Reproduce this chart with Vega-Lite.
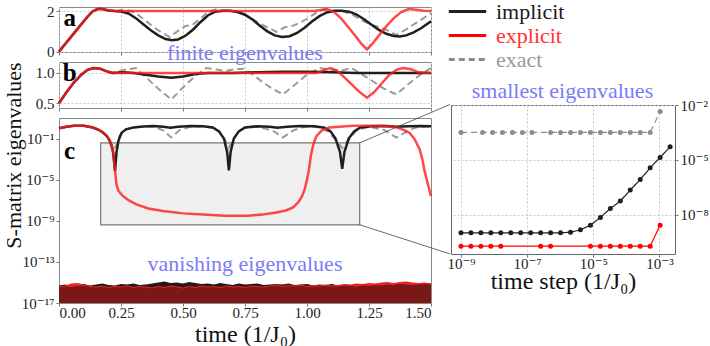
{
  "$schema": "https://vega.github.io/schema/vega-lite/v6.json",
  "background": "white",
  "padding": {"left": 1, "top": -2, "right": 0, "bottom": 0},
  "spacing": -7,
  "config": {
    "font": "Liberation Serif, DejaVu Serif, serif",
    "view": {"stroke": "#888", "strokeWidth": 1},
    "axis": {"labelFont": "Liberation Serif, DejaVu Serif, serif", "labelFontSize": 15, "labelColor": "#222", "titleFont": "Liberation Serif, DejaVu Serif, serif", "titleFontSize": 24, "titleFontWeight": "normal", "titleColor": "#111", "domain": false, "tickColor": "#777", "tickSize": 3, "gridColor": "#c8c8c8", "gridDash": [2, 2], "labelPadding": 2},
    "legend": {"labelFont": "Liberation Serif, DejaVu Serif, serif"},
    "text": {"font": "Liberation Serif, DejaVu Serif, serif"}
  },
  "datasets": {
    "pa": [
      {"s":"exact","t":0,"v":0},{"s":"exact","t":0.03,"v":0.45},{"s":"exact","t":0.06,"v":0.9},{"s":"exact","t":0.09,"v":1.35},{"s":"exact","t":0.115,"v":1.72},{"s":"exact","t":0.135,"v":1.98},{"s":"exact","t":0.155,"v":2.1},{"s":"exact","t":0.175,"v":2.1},{"s":"exact","t":0.2,"v":2.03},{"s":"exact","t":0.225,"v":2.0},
      {"s":"exact","t":0.26,"v":2.05},{"s":"exact","t":0.29,"v":2.0},{"s":"exact","t":0.32,"v":1.8},{"s":"exact","t":0.35,"v":1.52},{"s":"exact","t":0.38,"v":1.22},{"s":"exact","t":0.41,"v":0.97},{"s":"exact","t":0.446,"v":0.72},{"s":"exact","t":0.48,"v":1.02},{"s":"exact","t":0.51,"v":1.26},{"s":"exact","t":0.54,"v":1.33},{"s":"exact","t":0.57,"v":1.62},{"s":"exact","t":0.6,"v":1.95},{"s":"exact","t":0.63,"v":2.07},{"s":"exact","t":0.66,"v":2.02},{"s":"exact","t":0.7,"v":2.0},{"s":"exact","t":0.74,"v":1.88},{"s":"exact","t":0.78,"v":1.6},{"s":"exact","t":0.82,"v":1.32},{"s":"exact","t":0.85,"v":1.15},{"s":"exact","t":0.876,"v":0.97},{"s":"exact","t":0.91,"v":1.2},{"s":"exact","t":0.944,"v":1.28},{"s":"exact","t":0.97,"v":1.42},{"s":"exact","t":1.0,"v":1.62},{"s":"exact","t":1.035,"v":1.9},{"s":"exact","t":1.065,"v":2.08},{"s":"exact","t":1.1,"v":2.02},{"s":"exact","t":1.14,"v":2.0},{"s":"exact","t":1.18,"v":1.85},{"s":"exact","t":1.22,"v":1.55},{"s":"exact","t":1.26,"v":1.32},{"s":"exact","t":1.29,"v":1.22},{"s":"exact","t":1.33,"v":1.02},{"s":"exact","t":1.36,"v":0.82},{"s":"exact","t":1.4,"v":1.1},{"s":"exact","t":1.44,"v":1.42},{"s":"exact","t":1.47,"v":1.65},{"s":"exact","t":1.5,"v":1.9},
      {"s":"implicit","t":0,"v":0},{"s":"implicit","t":0.03,"v":0.45},{"s":"implicit","t":0.06,"v":0.9},{"s":"implicit","t":0.09,"v":1.35},{"s":"implicit","t":0.115,"v":1.72},{"s":"implicit","t":0.135,"v":1.98},{"s":"implicit","t":0.155,"v":2.1},{"s":"implicit","t":0.175,"v":2.1},{"s":"implicit","t":0.2,"v":2.03},{"s":"implicit","t":0.225,"v":2.0},
      {"s":"implicit","t":0.25,"v":1.98},{"s":"implicit","t":0.28,"v":1.88},{"s":"implicit","t":0.31,"v":1.65},{"s":"implicit","t":0.34,"v":1.35},{"s":"implicit","t":0.37,"v":1.05},{"s":"implicit","t":0.4,"v":0.8},{"s":"implicit","t":0.43,"v":0.62},{"s":"implicit","t":0.455,"v":0.56},{"s":"implicit","t":0.48,"v":0.6},{"s":"implicit","t":0.51,"v":0.78},{"s":"implicit","t":0.54,"v":1.08},{"s":"implicit","t":0.57,"v":1.45},{"s":"implicit","t":0.6,"v":1.78},{"s":"implicit","t":0.63,"v":1.97},{"s":"implicit","t":0.66,"v":2.02},{"s":"implicit","t":0.69,"v":2.01},{"s":"implicit","t":0.72,"v":1.95},{"s":"implicit","t":0.75,"v":1.82},{"s":"implicit","t":0.78,"v":1.58},{"s":"implicit","t":0.81,"v":1.28},{"s":"implicit","t":0.84,"v":1.0},{"s":"implicit","t":0.87,"v":0.8},{"s":"implicit","t":0.9,"v":0.72},{"s":"implicit","t":0.93,"v":0.76},{"s":"implicit","t":0.96,"v":0.92},{"s":"implicit","t":0.99,"v":1.18},{"s":"implicit","t":1.02,"v":1.48},{"s":"implicit","t":1.05,"v":1.75},{"s":"implicit","t":1.08,"v":1.93},{"s":"implicit","t":1.11,"v":2.01},{"s":"implicit","t":1.14,"v":2.02},{"s":"implicit","t":1.17,"v":1.97},{"s":"implicit","t":1.2,"v":1.83},{"s":"implicit","t":1.23,"v":1.6},{"s":"implicit","t":1.26,"v":1.32},{"s":"implicit","t":1.29,"v":1.07},{"s":"implicit","t":1.32,"v":0.88},{"s":"implicit","t":1.35,"v":0.77},{"s":"implicit","t":1.375,"v":0.75},{"s":"implicit","t":1.4,"v":0.8},{"s":"implicit","t":1.43,"v":0.95},{"s":"implicit","t":1.46,"v":1.15},{"s":"implicit","t":1.5,"v":1.5},
      {"s":"explicit","t":0,"v":0},{"s":"explicit","t":0.03,"v":0.45},{"s":"explicit","t":0.06,"v":0.9},{"s":"explicit","t":0.09,"v":1.35},{"s":"explicit","t":0.115,"v":1.72},{"s":"explicit","t":0.135,"v":1.98},{"s":"explicit","t":0.155,"v":2.1},{"s":"explicit","t":0.175,"v":2.1},{"s":"explicit","t":0.2,"v":2.03},{"s":"explicit","t":0.225,"v":2.0},
      {"s":"explicit","t":0.5,"v":2.0},{"s":"explicit","t":0.8,"v":2.0},{"s":"explicit","t":1.03,"v":2.0},{"s":"explicit","t":1.055,"v":2.05},{"s":"explicit","t":1.08,"v":2.1},{"s":"explicit","t":1.11,"v":1.95},{"s":"explicit","t":1.14,"v":1.6},{"s":"explicit","t":1.17,"v":1.15},{"s":"explicit","t":1.2,"v":0.7},{"s":"explicit","t":1.22,"v":0.38},{"s":"explicit","t":1.242,"v":0.11},{"s":"explicit","t":1.265,"v":0.4},{"s":"explicit","t":1.29,"v":0.8},{"s":"explicit","t":1.32,"v":1.25},{"s":"explicit","t":1.35,"v":1.65},{"s":"explicit","t":1.38,"v":1.95},{"s":"explicit","t":1.41,"v":2.1},{"s":"explicit","t":1.44,"v":2.06},{"s":"explicit","t":1.47,"v":2.01},{"s":"explicit","t":1.5,"v":2.0}
    ],
    "pb": [
      {"s":"exact","t":0,"v":0.5},{"s":"exact","t":0.03,"v":0.68},{"s":"exact","t":0.06,"v":0.84},{"s":"exact","t":0.09,"v":0.97},{"s":"exact","t":0.115,"v":1.05},{"s":"exact","t":0.14,"v":1.08},{"s":"exact","t":0.165,"v":1.07},{"s":"exact","t":0.19,"v":1.03},{"s":"exact","t":0.215,"v":1.0},
      {"s":"exact","t":0.26,"v":1.05},{"s":"exact","t":0.31,"v":1.08},{"s":"exact","t":0.35,"v":0.93},{"s":"exact","t":0.4,"v":0.74},{"s":"exact","t":0.453,"v":0.56},{"s":"exact","t":0.5,"v":0.76},{"s":"exact","t":0.55,"v":0.95},{"s":"exact","t":0.593,"v":1.08},{"s":"exact","t":0.63,"v":1.06},{"s":"exact","t":0.67,"v":1.03},{"s":"exact","t":0.71,"v":1.06},{"s":"exact","t":0.745,"v":1.07},{"s":"exact","t":0.78,"v":0.98},{"s":"exact","t":0.82,"v":0.85},{"s":"exact","t":0.86,"v":0.74},{"s":"exact","t":0.903,"v":0.645},{"s":"exact","t":0.95,"v":0.8},{"s":"exact","t":1.0,"v":0.97},{"s":"exact","t":1.05,"v":1.08},{"s":"exact","t":1.1,"v":1.05},{"s":"exact","t":1.14,"v":1.04},{"s":"exact","t":1.18,"v":1.08},{"s":"exact","t":1.22,"v":0.98},{"s":"exact","t":1.27,"v":0.85},{"s":"exact","t":1.31,"v":0.74},{"s":"exact","t":1.36,"v":0.645},{"s":"exact","t":1.41,"v":0.82},{"s":"exact","t":1.46,"v":0.98},{"s":"exact","t":1.5,"v":1.08},
      {"s":"implicit","t":0,"v":0.5},{"s":"implicit","t":0.03,"v":0.68},{"s":"implicit","t":0.06,"v":0.84},{"s":"implicit","t":0.09,"v":0.97},{"s":"implicit","t":0.115,"v":1.05},{"s":"implicit","t":0.14,"v":1.08},{"s":"implicit","t":0.165,"v":1.07},{"s":"implicit","t":0.19,"v":1.03},{"s":"implicit","t":0.215,"v":1.0},
      {"s":"implicit","t":0.26,"v":1.01},{"s":"implicit","t":0.3,"v":1.0},{"s":"implicit","t":0.35,"v":0.97},{"s":"implicit","t":0.4,"v":0.94},{"s":"implicit","t":0.453,"v":0.92},{"s":"implicit","t":0.5,"v":0.94},{"s":"implicit","t":0.55,"v":0.98},{"s":"implicit","t":0.6,"v":1.0},{"s":"implicit","t":0.7,"v":1.0},{"s":"implicit","t":0.8,"v":1.01},{"s":"implicit","t":0.9,"v":1.02},{"s":"implicit","t":1.0,"v":1.02},{"s":"implicit","t":1.1,"v":1.01},{"s":"implicit","t":1.2,"v":1.0},{"s":"implicit","t":1.5,"v":1.0},
      {"s":"explicit","t":0,"v":0.5},{"s":"explicit","t":0.03,"v":0.68},{"s":"explicit","t":0.06,"v":0.84},{"s":"explicit","t":0.09,"v":0.97},{"s":"explicit","t":0.115,"v":1.05},{"s":"explicit","t":0.14,"v":1.08},{"s":"explicit","t":0.165,"v":1.07},{"s":"explicit","t":0.19,"v":1.03},{"s":"explicit","t":0.215,"v":1.0},
      {"s":"explicit","t":0.5,"v":1.0},{"s":"explicit","t":0.8,"v":1.0},{"s":"explicit","t":1.04,"v":1.0},{"s":"explicit","t":1.07,"v":1.05},{"s":"explicit","t":1.095,"v":1.08},{"s":"explicit","t":1.12,"v":1.04},{"s":"explicit","t":1.15,"v":0.93},{"s":"explicit","t":1.18,"v":0.81},{"s":"explicit","t":1.21,"v":0.69},{"s":"explicit","t":1.242,"v":0.59},{"s":"explicit","t":1.27,"v":0.68},{"s":"explicit","t":1.3,"v":0.82},{"s":"explicit","t":1.33,"v":0.96},{"s":"explicit","t":1.36,"v":1.05},{"s":"explicit","t":1.387,"v":1.08},{"s":"explicit","t":1.42,"v":1.06},{"s":"explicit","t":1.45,"v":1.01},{"s":"explicit","t":1.5,"v":1.0}
    ],
    "pc": [
      {"s":"exact","t":0,"v":1},{"s":"exact","t":0.03,"v":1.413},{"s":"exact","t":0.06,"v":1.738},{"s":"exact","t":0.1,"v":1.738},{"s":"exact","t":0.137,"v":1.175},{"s":"exact","t":0.16,"v":0.708},{"s":"exact","t":0.177,"v":0.389},{"s":"exact","t":0.193,"v":0.178},{"s":"exact","t":0.204,"v":0.0631},
      {"s":"exact","t":0.212,"v":0.0251},{"s":"exact","t":0.222,"v":0.01},{"s":"exact","t":0.232,"v":0.0251},{"s":"exact","t":0.245,"v":0.2},{"s":"exact","t":0.27,"v":0.794},{"s":"exact","t":0.3,"v":1.175},{"s":"exact","t":0.34,"v":1.514},{"s":"exact","t":0.38,"v":1.413},{"s":"exact","t":0.42,"v":0.631},{"s":"exact","t":0.453,"v":0.126},{"s":"exact","t":0.485,"v":0.631},{"s":"exact","t":0.53,"v":1.413},{"s":"exact","t":0.58,"v":1.514},{"s":"exact","t":0.62,"v":1.122},{"s":"exact","t":0.645,"v":0.501},{"s":"exact","t":0.668,"v":0.0794},{"s":"exact","t":0.685,"v":0.0126},{"s":"exact","t":0.702,"v":0.0794},{"s":"exact","t":0.725,"v":0.501},{"s":"exact","t":0.75,"v":1.122},{"s":"exact","t":0.8,"v":1.413},{"s":"exact","t":0.86,"v":0.631},{"s":"exact","t":0.903,"v":0.126},{"s":"exact","t":0.945,"v":0.631},{"s":"exact","t":0.99,"v":1.413},{"s":"exact","t":1.04,"v":1.413},{"s":"exact","t":1.085,"v":0.501},{"s":"exact","t":1.115,"v":0.0794},{"s":"exact","t":1.142,"v":0.0126},{"s":"exact","t":1.168,"v":0.0794},{"s":"exact","t":1.2,"v":0.631},{"s":"exact","t":1.25,"v":1.413},{"s":"exact","t":1.31,"v":0.708},{"s":"exact","t":1.36,"v":0.126},{"s":"exact","t":1.41,"v":0.631},{"s":"exact","t":1.45,"v":1.413},{"s":"exact","t":1.5,"v":1.514},
      {"s":"implicit","t":0,"v":1},{"s":"implicit","t":0.03,"v":1.413},{"s":"implicit","t":0.06,"v":1.738},{"s":"implicit","t":0.1,"v":1.738},{"s":"implicit","t":0.137,"v":1.175},{"s":"implicit","t":0.16,"v":0.708},{"s":"implicit","t":0.177,"v":0.389},{"s":"implicit","t":0.193,"v":0.178},{"s":"implicit","t":0.204,"v":0.0631},{"s":"implicit","t":0.212,"v":0.02},{"s":"implicit","t":0.218,"v":0.00501},{"s":"implicit","t":0.222,"v":0.000631},{"s":"implicit","t":0.226,"v":0.0000708},
      {"s":"implicit","t":0.232,"v":0.00501},{"s":"implicit","t":0.24,"v":0.0631},{"s":"implicit","t":0.252,"v":0.355},{"s":"implicit","t":0.27,"v":0.794},{"s":"implicit","t":0.3,"v":1.175},{"s":"implicit","t":0.34,"v":1.514},{"s":"implicit","t":0.38,"v":1.66},{"s":"implicit","t":0.42,"v":1.413},{"s":"implicit","t":0.45,"v":1.122},{"s":"implicit","t":0.48,"v":1.413},{"s":"implicit","t":0.53,"v":1.66},{"s":"implicit","t":0.58,"v":1.585},{"s":"implicit","t":0.62,"v":1.175},{"s":"implicit","t":0.645,"v":0.501},{"s":"implicit","t":0.665,"v":0.1},{"s":"implicit","t":0.678,"v":0.00501},{"s":"implicit","t":0.685,"v":0.0000794},{"s":"implicit","t":0.692,"v":0.00501},{"s":"implicit","t":0.705,"v":0.1},{"s":"implicit","t":0.725,"v":0.501},{"s":"implicit","t":0.75,"v":1.175},{"s":"implicit","t":0.8,"v":1.585},{"s":"implicit","t":0.85,"v":1.413},{"s":"implicit","t":0.88,"v":1.122},{"s":"implicit","t":0.92,"v":1.413},{"s":"implicit","t":0.97,"v":1.66},{"s":"implicit","t":1.03,"v":1.585},{"s":"implicit","t":1.07,"v":1.122},{"s":"implicit","t":1.095,"v":0.501},{"s":"implicit","t":1.115,"v":0.1},{"s":"implicit","t":1.133,"v":0.00501},{"s":"implicit","t":1.142,"v":0.000112},{"s":"implicit","t":1.151,"v":0.00501},{"s":"implicit","t":1.168,"v":0.1},{"s":"implicit","t":1.19,"v":0.501},{"s":"implicit","t":1.215,"v":1.175},{"s":"implicit","t":1.26,"v":1.585},{"s":"implicit","t":1.32,"v":1.66},{"s":"implicit","t":1.36,"v":1.413},{"s":"implicit","t":1.41,"v":1.585},{"s":"implicit","t":1.46,"v":1.66},{"s":"implicit","t":1.5,"v":1.585},
      {"s":"explicit","t":0,"v":1},{"s":"explicit","t":0.03,"v":1.413},{"s":"explicit","t":0.06,"v":1.738},{"s":"explicit","t":0.1,"v":1.738},{"s":"explicit","t":0.137,"v":1.175},{"s":"explicit","t":0.16,"v":0.708},{"s":"explicit","t":0.177,"v":0.389},{"s":"explicit","t":0.193,"v":0.178},{"s":"explicit","t":0.204,"v":0.0631},{"s":"explicit","t":0.212,"v":0.02},{"s":"explicit","t":0.218,"v":0.00501},{"s":"explicit","t":0.222,"v":0.000631},{"s":"explicit","t":0.226,"v":0.0000708},
      {"s":"explicit","t":0.232,"v":0.00000316},{"s":"explicit","t":0.24,"v":7.94e-7},{"s":"explicit","t":0.258,"v":2.51e-7},{"s":"explicit","t":0.28,"v":1e-7},{"s":"explicit","t":0.312,"v":3.98e-8},{"s":"explicit","t":0.36,"v":1.585e-8},{"s":"explicit","t":0.419,"v":8.91e-9},{"s":"explicit","t":0.5,"v":5.25e-9},{"s":"explicit","t":0.58,"v":3.98e-9},{"s":"explicit","t":0.67,"v":3.16e-9},{"s":"explicit","t":0.762,"v":3.16e-9},{"s":"explicit","t":0.82,"v":3.98e-9},{"s":"explicit","t":0.876,"v":6.31e-9},{"s":"explicit","t":0.915,"v":1e-8},{"s":"explicit","t":0.944,"v":2e-8},{"s":"explicit","t":0.965,"v":6.31e-8},{"s":"explicit","t":0.98,"v":2.51e-7},{"s":"explicit","t":0.99,"v":1e-6},{"s":"explicit","t":1.0,"v":1e-5},{"s":"explicit","t":1.008,"v":1e-4},{"s":"explicit","t":1.016,"v":0.00251},{"s":"explicit","t":1.025,"v":0.0251},{"s":"explicit","t":1.037,"v":0.1585},{"s":"explicit","t":1.06,"v":0.631},{"s":"explicit","t":1.09,"v":1.175},{"s":"explicit","t":1.185,"v":1.738},{"s":"explicit","t":1.306,"v":1.738},{"s":"explicit","t":1.36,"v":1.259},{"s":"explicit","t":1.39,"v":0.708},{"s":"explicit","t":1.414,"v":0.355},{"s":"explicit","t":1.435,"v":0.0794},{"s":"explicit","t":1.454,"v":0.00912},{"s":"explicit","t":1.465,"v":0.001},{"s":"explicit","t":1.474,"v":0.0000708},{"s":"explicit","t":1.485,"v":0.00000631},{"s":"explicit","t":1.5,"v":2.51e-7}
    ],
    "noise": [
      {"t":0,"kb":5.01e-16,"kr":3.98e-16,"kd":3.16e-16},{"t":0.025,"kb":6.31e-16,"kr":5.01e-16,"kd":3.98e-16},{"t":0.05,"kb":4.47e-16,"kr":7.94e-16,"kd":3.55e-16},{"t":0.075,"kb":5.62e-16,"kr":8.91e-16,"kd":4.47e-16},{"t":0.1,"kb":7.08e-16,"kr":6.31e-16,"kd":5.01e-16},{"t":0.125,"kb":5.01e-16,"kr":4.47e-16,"kd":3.55e-16},{"t":0.15,"kb":6.31e-16,"kr":3.98e-16,"kd":3.16e-16},{"t":0.175,"kb":7.94e-16,"kr":5.01e-16,"kd":3.98e-16},{"t":0.2,"kb":5.62e-16,"kr":3.55e-16,"kd":2.82e-16},{"t":0.225,"kb":5.01e-16,"kr":4.47e-16,"kd":3.55e-16},
      {"t":0.25,"kb":7.08e-16,"kr":3.98e-16,"kd":3.16e-16},{"t":0.275,"kb":6.31e-16,"kr":5.01e-16,"kd":3.98e-16},{"t":0.3,"kb":7.94e-16,"kr":3.55e-16,"kd":2.82e-16},{"t":0.325,"kb":5.62e-16,"kr":4.47e-16,"kd":3.55e-16},{"t":0.35,"kb":6.31e-16,"kr":3.98e-16,"kd":3.16e-16},{"t":0.375,"kb":7.94e-16,"kr":3.16e-16,"kd":2.51e-16},{"t":0.4,"kb":1e-15,"kr":4.47e-16,"kd":3.55e-16},{"t":0.425,"kb":1.26e-15,"kr":3.55e-16,"kd":2.82e-16},{"t":0.45,"kb":8.91e-16,"kr":5.01e-16,"kd":3.98e-16},{"t":0.475,"kb":1e-15,"kr":3.98e-16,"kd":3.16e-16},
      {"t":0.5,"kb":7.94e-16,"kr":3.16e-16,"kd":2.51e-16},{"t":0.525,"kb":1.12e-15,"kr":4.47e-16,"kd":3.55e-16},{"t":0.55,"kb":8.91e-16,"kr":3.55e-16,"kd":2.82e-16},{"t":0.575,"kb":7.08e-16,"kr":5.01e-16,"kd":3.98e-16},{"t":0.6,"kb":7.94e-16,"kr":3.98e-16,"kd":3.16e-16},{"t":0.625,"kb":6.31e-16,"kr":4.47e-16,"kd":3.55e-16},{"t":0.65,"kb":8.91e-16,"kr":3.55e-16,"kd":2.82e-16},{"t":0.675,"kb":7.08e-16,"kr":5.01e-16,"kd":3.98e-16},{"t":0.7,"kb":5.62e-16,"kr":3.98e-16,"kd":3.16e-16},{"t":0.725,"kb":7.94e-16,"kr":4.47e-16,"kd":3.55e-16},
      {"t":0.75,"kb":6.31e-16,"kr":3.55e-16,"kd":2.82e-16},{"t":0.775,"kb":7.08e-16,"kr":5.01e-16,"kd":3.98e-16},{"t":0.8,"kb":7.94e-16,"kr":4.47e-16,"kd":3.55e-16},{"t":0.825,"kb":5.62e-16,"kr":3.98e-16,"kd":3.16e-16},{"t":0.85,"kb":6.31e-16,"kr":5.01e-16,"kd":3.98e-16},{"t":0.875,"kb":7.08e-16,"kr":6.31e-16,"kd":5.01e-16},{"t":0.9,"kb":6.31e-16,"kr":4.47e-16,"kd":3.55e-16},{"t":0.925,"kb":7.94e-16,"kr":5.62e-16,"kd":4.47e-16},{"t":0.95,"kb":5.62e-16,"kr":5.01e-16,"kd":3.98e-16},{"t":0.975,"kb":6.31e-16,"kr":6.31e-16,"kd":5.01e-16},
      {"t":1.0,"kb":7.08e-16,"kr":4.47e-16,"kd":3.55e-16},{"t":1.025,"kb":5.01e-16,"kr":5.62e-16,"kd":3.98e-16},{"t":1.05,"kb":6.31e-16,"kr":5.01e-16,"kd":3.98e-16},{"t":1.075,"kb":5.62e-16,"kr":6.31e-16,"kd":4.47e-16},{"t":1.1,"kb":7.08e-16,"kr":5.01e-16,"kd":3.98e-16},{"t":1.125,"kb":5.01e-16,"kr":5.62e-16,"kd":3.98e-16},{"t":1.15,"kb":6.31e-16,"kr":7.08e-16,"kd":5.01e-16},{"t":1.175,"kb":5.62e-16,"kr":6.31e-16,"kd":4.47e-16},{"t":1.2,"kb":5.01e-16,"kr":7.94e-16,"kd":3.98e-16},{"t":1.225,"kb":6.31e-16,"kr":7.08e-16,"kd":5.01e-16},
      {"t":1.25,"kb":5.62e-16,"kr":8.91e-16,"kd":4.47e-16},{"t":1.275,"kb":7.08e-16,"kr":7.94e-16,"kd":5.62e-16},{"t":1.3,"kb":6.31e-16,"kr":1e-15,"kd":5.01e-16},{"t":1.325,"kb":7.94e-16,"kr":1.12e-15,"kd":6.31e-16},{"t":1.35,"kb":7.08e-16,"kr":8.91e-16,"kd":5.62e-16},{"t":1.375,"kb":8.91e-16,"kr":1.12e-15,"kd":7.08e-16},{"t":1.4,"kb":7.94e-16,"kr":1.26e-15,"kd":6.31e-16},{"t":1.425,"kb":7.08e-16,"kr":1e-15,"kd":5.62e-16},{"t":1.45,"kb":7.94e-16,"kr":8.91e-16,"kd":6.31e-16},{"t":1.475,"kb":8.91e-16,"kr":1e-15,"kd":7.08e-16},{"t":1.5,"kb":7.94e-16,"kr":7.94e-16,"kd":6.31e-16}
    ],
    "steps": [
      {"s":"implicit","dt":1e-9,"v":1e-9},{"s":"implicit","dt":2e-9,"v":1e-9},{"s":"implicit","dt":4e-9,"v":1e-9},{"s":"implicit","dt":8e-9,"v":1e-9},{"s":"implicit","dt":1.6e-8,"v":1e-9},{"s":"implicit","dt":3.2e-8,"v":1e-9},{"s":"implicit","dt":6.4e-8,"v":1e-9},{"s":"implicit","dt":1.28e-7,"v":1e-9},{"s":"implicit","dt":2.56e-7,"v":1e-9},{"s":"implicit","dt":5.12e-7,"v":1e-9},{"s":"implicit","dt":1.024e-6,"v":1e-9},{"s":"implicit","dt":2.048e-6,"v":1.07e-9},{"s":"implicit","dt":4.096e-6,"v":1.45e-9},{"s":"implicit","dt":8.192e-6,"v":2.63e-9},{"s":"implicit","dt":1.6384e-5,"v":6.92e-9},{"s":"implicit","dt":3.2768e-5,"v":2.14e-8},{"s":"implicit","dt":6.5536e-5,"v":5.5e-8},{"s":"implicit","dt":1.31072e-4,"v":2.19e-7},{"s":"implicit","dt":2.62144e-4,"v":8.32e-7},{"s":"implicit","dt":5.24288e-4,"v":3.63e-6},{"s":"implicit","dt":1.048576e-3,"v":1.35e-5},{"s":"implicit","dt":2.097152e-3,"v":5.13e-5},
      {"s":"explicit","dt":1e-9,"v":1.86e-10},{"s":"explicit","dt":2e-9,"v":1.86e-10},{"s":"explicit","dt":4e-9,"v":1.86e-10},{"s":"explicit","dt":8e-9,"v":1.86e-10},{"s":"explicit","dt":1.6e-8,"v":1.86e-10},{"s":"explicit","dt":2.56e-7,"v":1.86e-10},{"s":"explicit","dt":5.12e-7,"v":1.86e-10},{"s":"explicit","dt":8.192e-6,"v":1.86e-10},{"s":"explicit","dt":1.6384e-5,"v":1.86e-10},{"s":"explicit","dt":3.2768e-5,"v":1.86e-10},{"s":"explicit","dt":6.5536e-5,"v":1.86e-10},{"s":"explicit","dt":1.31072e-4,"v":1.86e-10},{"s":"explicit","dt":2.62144e-4,"v":1.86e-10},{"s":"explicit","dt":5.24288e-4,"v":1.86e-10},{"s":"explicit","dt":1.048576e-3,"v":2.63e-9},
      {"s":"exact","dt":1e-9,"v":3.16e-4},{"s":"exact","dt":4.5e-9,"v":3.16e-4},{"s":"exact","dt":9e-9,"v":3.16e-4},{"s":"exact","dt":1.8e-8,"v":3.16e-4},{"s":"exact","dt":3.6e-8,"v":3.16e-4},{"s":"exact","dt":7.2e-8,"v":3.16e-4},{"s":"exact","dt":1.4e-7,"v":3.16e-4},{"s":"exact","dt":5.12e-7,"v":3.16e-4},{"s":"exact","dt":1.024e-6,"v":3.16e-4},{"s":"exact","dt":2.048e-6,"v":3.16e-4},{"s":"exact","dt":4.096e-6,"v":3.16e-4},{"s":"exact","dt":8.192e-6,"v":3.16e-4},{"s":"exact","dt":1.6384e-5,"v":3.16e-4},{"s":"exact","dt":3.2768e-5,"v":3.16e-4},{"s":"exact","dt":6.5536e-5,"v":3.16e-4},{"s":"exact","dt":1.31072e-4,"v":3.16e-4},{"s":"exact","dt":2.62144e-4,"v":3.16e-4},{"s":"exact","dt":5.24288e-4,"v":3.16e-4},{"s":"exact","dt":1.048576e-3,"v":4.47e-3}
    ]
  },
  "hconcat": [
    {
      "vconcat": [
        {
          "width": 372, "height": 45,
          "layer": [
            {"data": {"name": "pa"}, "transform": [{"filter": "datum.s === 'exact'"}],
             "mark": {"type": "line", "color": "#9a9a9a", "strokeWidth": 2, "strokeDash": [7, 4]},
             "encoding": {
               "x": {"field": "t", "type": "quantitative", "scale": {"domain": [0, 1.5], "nice": false, "zero": false}, "axis": {"values": [0, 0.25, 0.5, 0.75, 1, 1.25, 1.5], "labels": false, "title": null, "grid": true}},
               "y": {"field": "v", "type": "quantitative", "scale": {"domain": [-0.02, 2.2], "nice": false, "zero": false}, "axis": {"values": [0, 2], "format": "d", "title": null, "grid": true}}
             }},
            {"data": {"name": "pa"}, "transform": [{"filter": "datum.s === 'implicit'"}],
             "mark": {"type": "line", "color": "#231e1e", "strokeWidth": 2.5},
             "encoding": {"x": {"field": "t", "type": "quantitative"}, "y": {"field": "v", "type": "quantitative"}}},
            {"data": {"name": "pa"}, "transform": [{"filter": "datum.s === 'explicit'"}],
             "mark": {"type": "line", "color": "#ff1a1a", "strokeWidth": 2.5, "opacity": 0.8},
             "encoding": {"x": {"field": "t", "type": "quantitative"}, "y": {"field": "v", "type": "quantitative"}}},
            {"data": {"values": [{"t": 0.043, "v": 1.66, "txt": "a"}]},
             "mark": {"type": "text", "fontSize": 25, "fontWeight": "bold", "color": "#000"},
             "encoding": {"x": {"field": "t", "type": "quantitative"}, "y": {"field": "v", "type": "quantitative"}, "text": {"field": "txt"}}},
            {"data": {"values": [{"t": 0.75, "v": -0.07, "txt": "finite eigenvalues"}]},
             "mark": {"type": "text", "fontSize": 22, "color": "#7b7bf7"},
             "encoding": {"x": {"field": "t", "type": "quantitative"}, "y": {"field": "v", "type": "quantitative"}, "text": {"field": "txt"}}}
          ]
        },
        {
          "width": 372, "height": 46,
          "layer": [
            {"data": {"name": "pb"}, "transform": [{"filter": "datum.s === 'exact'"}],
             "mark": {"type": "line", "color": "#9a9a9a", "strokeWidth": 2, "strokeDash": [7, 4]},
             "encoding": {
               "x": {"field": "t", "type": "quantitative", "scale": {"domain": [0, 1.5], "nice": false, "zero": false}, "axis": {"values": [0, 0.25, 0.5, 0.75, 1, 1.25, 1.5], "labels": false, "title": null, "grid": true}},
               "y": {"field": "v", "type": "quantitative", "scale": {"domain": [0.42, 1.18], "nice": false, "zero": false}, "axis": {"values": [0.5, 1.0], "format": ".1f", "title": null, "grid": true}}
             }},
            {"data": {"name": "pb"}, "transform": [{"filter": "datum.s === 'implicit'"}],
             "mark": {"type": "line", "color": "#231e1e", "strokeWidth": 2.5},
             "encoding": {"x": {"field": "t", "type": "quantitative"}, "y": {"field": "v", "type": "quantitative"}}},
            {"data": {"name": "pb"}, "transform": [{"filter": "datum.s === 'explicit'"}],
             "mark": {"type": "line", "color": "#ff1a1a", "strokeWidth": 2.5, "opacity": 0.8},
             "encoding": {"x": {"field": "t", "type": "quantitative"}, "y": {"field": "v", "type": "quantitative"}}},
            {"data": {"values": [{"t": 0.043, "v": 1.0, "txt": "b"}]},
             "mark": {"type": "text", "fontSize": 25, "fontWeight": "bold", "color": "#000"},
             "encoding": {"x": {"field": "t", "type": "quantitative"}, "y": {"field": "v", "type": "quantitative"}, "text": {"field": "txt"}}}
          ]
        },
        {
          "width": 372, "height": 185,
          "layer": [
            {"data": {"values": [{"t": 0.168, "t2": 1.2125, "v": 0.038, "v2": 4.07e-10}]},
             "mark": {"type": "rect", "fill": "#efefef", "stroke": "#777", "strokeWidth": 1.2},
             "encoding": {
               "x": {"field": "t", "type": "quantitative", "scale": {"domain": [0, 1.5], "nice": false, "zero": false}, "axis": {"values": [0, 0.25, 0.5, 0.75, 1, 1.25, 1.5], "format": ".2f", "title": "time (1/J₀)", "titlePadding": 2, "labelPadding": -1, "grid": false}},
               "x2": {"field": "t2"},
               "y": {"field": "v", "type": "quantitative", "scale": {"type": "log", "domain": [1e-17, 10], "nice": false}, "axis": {"values": [1e-17, 1e-13, 1e-9, 1e-5, 0.1], "grid": false, "labelExpr": "'10' + replace(replace(replace(replace(replace(replace(replace(replace(replace(replace(replace('' + round(log(datum.value) / LN10), '-', '⁻'), '0', '⁰'), '1', '¹'), '2', '²'), '3', '³'), '4', '⁴'), '5', '⁵'), '6', '⁶'), '7', '⁷'), '8', '⁸'), '9', '⁹')", "title": "S-matrix eigenvalues", "titleFontSize": 22, "titleX": -46, "titleY": 37, "titleAngle": 270, "titleAlign": "center", "titleBaseline": "middle"}},
               "y2": {"field": "v2"}
             }},
            {"data": {"name": "pc"}, "transform": [{"filter": "datum.s === 'exact'"}],
             "mark": {"type": "line", "color": "#9a9a9a", "strokeWidth": 2, "strokeDash": [7, 4]},
             "encoding": {"x": {"field": "t", "type": "quantitative"}, "y": {"field": "v", "type": "quantitative"}}},
            {"data": {"name": "pc"}, "transform": [{"filter": "datum.s === 'implicit'"}],
             "mark": {"type": "line", "color": "#231e1e", "strokeWidth": 2.5},
             "encoding": {"x": {"field": "t", "type": "quantitative"}, "y": {"field": "v", "type": "quantitative"}}},
            {"data": {"name": "pc"}, "transform": [{"filter": "datum.s === 'explicit'"}],
             "mark": {"type": "line", "color": "#ff1a1a", "strokeWidth": 2.5, "opacity": 0.8},
             "encoding": {"x": {"field": "t", "type": "quantitative"}, "y": {"field": "v", "type": "quantitative"}}},
            {"data": {"name": "noise"},
             "mark": {"type": "area", "color": "#201a1a"},
             "encoding": {"x": {"field": "t", "type": "quantitative"}, "y": {"field": "kb", "type": "quantitative"}, "y2": {"datum": 1e-17}}},
            {"data": {"name": "noise"},
             "mark": {"type": "area", "color": "#ee2222"},
             "encoding": {"x": {"field": "t", "type": "quantitative"}, "y": {"field": "kr", "type": "quantitative"}, "y2": {"datum": 1e-17}}},
            {"data": {"name": "noise"},
             "mark": {"type": "area", "color": "#7a1717"},
             "encoding": {"x": {"field": "t", "type": "quantitative"}, "y": {"field": "kd", "type": "quantitative"}, "y2": {"datum": 1e-17}}},
            {"data": {"values": [{"t": 0.043, "v": 0.0062, "txt": "c"}]},
             "mark": {"type": "text", "fontSize": 25, "fontWeight": "bold", "color": "#000"},
             "encoding": {"x": {"field": "t", "type": "quantitative"}, "y": {"field": "v", "type": "quantitative"}, "text": {"field": "txt"}}},
            {"data": {"values": [{"t": 0.75, "v": 6.3e-14, "txt": "vanishing eigenvalues"}]},
             "mark": {"type": "text", "fontSize": 22, "color": "#7b7bf7"},
             "encoding": {"x": {"field": "t", "type": "quantitative"}, "y": {"field": "v", "type": "quantitative"}, "text": {"field": "txt"}}},
            {"data": {"values": [{"t": 1.2125, "v": 0.038, "t2": 1.5766, "v2": 207.5}, {"t": 1.2125, "v": 4.07e-10, "t2": 1.5766, "v2": 6.0e-13}]},
             "mark": {"type": "rule", "color": "#444", "strokeWidth": 0.8},
             "encoding": {"x": {"field": "t", "type": "quantitative"}, "x2": {"field": "t2"}, "y": {"field": "v", "type": "quantitative"}, "y2": {"field": "v2"}}}
          ]
        }
      ],
      "spacing": 10,
      "bounds": "flush"
    },
    {
      "vconcat": [
        {
          "width": 224, "height": 88,
          "view": {"stroke": null},
          "data": {"values": []},
          "mark": "point"
        },
        {
          "width": 224, "height": 149,
          "view": {"stroke": "#666"},
          "layer": [
            {"data": {"name": "steps"},
             "mark": {"type": "line", "strokeWidth": 1.2},
             "encoding": {
               "x": {"field": "dt", "type": "quantitative", "scale": {"type": "log", "domain": [5e-10, 2.95e-3], "nice": false}, "axis": {"values": [1e-9, 1e-7, 1e-5, 1e-3], "grid": true, "labelPadding": -1, "labelExpr": "'10' + replace(replace(replace(replace(replace(replace(replace(replace(replace(replace(replace('' + round(log(datum.value) / LN10), '-', '⁻'), '0', '⁰'), '1', '¹'), '2', '²'), '3', '³'), '4', '⁴'), '5', '⁵'), '6', '⁶'), '7', '⁷'), '8', '⁸'), '9', '⁹')", "title": "time step (1/J₀)", "titlePadding": -2}},
               "y": {"field": "v", "type": "quantitative", "scale": {"type": "log", "domain": [6.9e-11, 0.01], "nice": false}, "axis": {"orient": "right", "values": [1e-8, 1e-5, 1e-2], "grid": true, "title": null, "labelExpr": "'10' + replace(replace(replace(replace(replace(replace(replace(replace(replace(replace(replace('' + round(log(datum.value) / LN10), '-', '⁻'), '0', '⁰'), '1', '¹'), '2', '²'), '3', '³'), '4', '⁴'), '5', '⁵'), '6', '⁶'), '7', '⁷'), '8', '⁸'), '9', '⁹')"}},
               "color": {"field": "s", "type": "nominal", "scale": {"domain": ["implicit", "explicit", "exact"], "range": ["#231e1e", "#ff0000", "#8c8c8c"]},
                 "legend": {"title": null, "orient": "none", "legendX": 4, "legendY": -106, "direction": "vertical", "symbolType": "M-1.7,0H1.7", "symbolSize": 484, "symbolStrokeWidth": 3, "labelFontSize": 22, "labelOffset": 16, "rowPadding": 0, "padding": 0,
                   "encode": {"labels": {"update": {"fill": {"signal": "datum.label === 'implicit' ? '#1e1a1a' : datum.label === 'explicit' ? '#ff3333' : '#999999'"}}}}}},
               "strokeDash": {"field": "s", "type": "nominal", "scale": {"domain": ["implicit", "explicit", "exact"], "range": [[1, 0], [1, 0], [6, 4]]},
                 "legend": {"title": null, "orient": "none", "legendX": 4, "legendY": -106, "direction": "vertical", "symbolType": "M-1.7,0H1.7", "symbolSize": 484, "symbolStrokeWidth": 3, "labelFontSize": 22, "labelOffset": 16, "rowPadding": 0, "padding": 0,
                   "encode": {"labels": {"update": {"fill": {"signal": "datum.label === 'implicit' ? '#1e1a1a' : datum.label === 'explicit' ? '#ff3333' : '#999999'"}}}}}}
             }},
            {"data": {"name": "steps"},
             "mark": {"type": "point", "filled": true, "size": 25, "opacity": 1},
             "encoding": {"x": {"field": "dt", "type": "quantitative"}, "y": {"field": "v", "type": "quantitative"}, "color": {"field": "s", "type": "nominal"}}},
            {"data": {"values": [{"dt": 1.17e-6, "v": 0.059, "txt": "smallest eigenvalues"}]},
             "mark": {"type": "text", "fontSize": 22, "color": "#7b7bf7"},
             "encoding": {"x": {"field": "dt", "type": "quantitative"}, "y": {"field": "v", "type": "quantitative"}, "text": {"field": "txt"}}}
          ]
        }
      ],
      "spacing": 10,
      "bounds": "flush",
      "resolve": {"scale": {"color": "independent", "strokeDash": "independent"}}
    }
  ]
}
